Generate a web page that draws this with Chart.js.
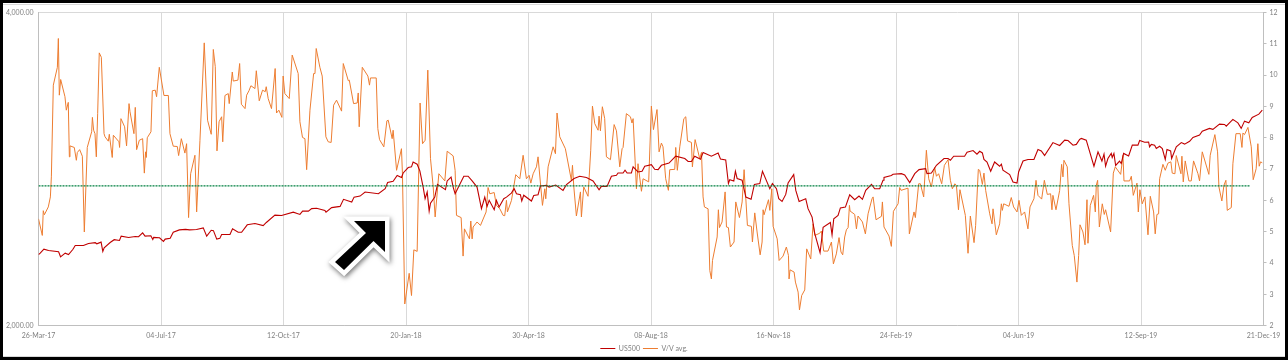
<!DOCTYPE html>
<html><head><meta charset="utf-8">
<script src="https://cdn.jsdelivr.net/npm/chart.js@4"></script>
<style>
html,body{margin:0;padding:0;background:#000;overflow:hidden}
#page{position:absolute;left:3px;top:3px;width:1282px;height:354px;background:#fff;}
#t{position:absolute;left:0;right:0;top:1px;height:1px;background:#d9d9d9}
#b{position:absolute;left:0;right:0;bottom:0;height:1px;background:#d9d9d9}
canvas{position:absolute;left:0;top:0}
</style></head><body>
<div id="page"><div id="t"></div><div id="b"></div></div>
<canvas id="c" width="1288" height="360"></canvas>
<script>
const startDate = Date.UTC(2017, 2, 26);
const tickStepDays = 100;
const lastDay = 1000;
const seriesNames = ["US500", "V/V avg."];
const averageValue = 6.464;
const averageEndDay = 989;

const usDays = [0,1.4,4.4,8.2,16.4,18,21.8,24.5,28,30,36.7,40.8,46.3,47.6,51.1,52.5,53.6,58.5,61.8,66.1,67.5,73.5,79,81.7,85,87,91.7,93.3,94,98.8,102,103.4,107.5,110,115,120,123.3,129,134.5,137.3,141,142.8,145.5,148,149.5,156.3,158.4,163,165.8,170.4,176.7,183.4,186,193,198.4,208,213.4,215.6,220.3,223,227,233.8,234.7,239.3,246.2,249,255.7,257.6,262.5,266.6,277.5,283,285,
289.5,292.8,296.3,297.7,301.8,304.5,305.8,309.1,311.3,314,315.6,317.3,318.9,320,323.5,325.7,332.2,333.6,336.8,338.5,340.1,347.2,350.7,354,358,361.6,364.3,366.2,367.9,372,373.8,376,379.8,382,386,388.3,390.2,393.4,394.5,396.1,402.4,404.3,407.8,409.7,414.6,416.8,422.2,428.2,431,437.2,441.8,447.3,452.7,457.6,459.5,464.1,467.7,471.8,473.1,477.2,478.8,480.5,484,485.4,489.4,492.7,494.9,500.3,503,505.8,508.5,514.7,520.2,
527.6,530.3,533,535.7,540.4,542.5,549.3,554.8,556.7,561,563.2,564.3,567.6,568.9,570.3,574.4,577.4,581.7,584.4,588.8,591,597,599.1,602.4,604.3,607,610,611.9,616.5,618.2,620.9,626.3,628.2,631.5,633.7,638,640.5,646.4,647.8,649.2,652.7,654.6,658.7,662.2,666.3,669.8,672.6,675.3,680,682.6,686.7,689.4,690.2,696.2,697.6,704.4,707.1,711.2,715.3,718.8,724.2,725.3,728.9,733,739.2,742.5,744.4,747.1,756,758,762.9,766.1,
768.3,770.5,771.8,774.3,777.3,780.5,784.6,786,787.3,792.8,795.5,798.8,800.1,803.7,807.7,812.6,815.9,818.6,821.3,828.1,833.6,837.7,840.4,844.5,847.2,849.9,851.3,855.3,861.6,864.9,868.1,869.8,871.1,873,875.7,876.5,877.9,879.3,882.5,883.9,885.8,889.9,892.9,897.5,898.9,903,906.2,907,908.4,911.1,912.5,915.2,917.4,919.8,921.2,924.2,925,928.8,932.9,935.6,939.7,942.4,947.8,950,955.9,958.7,964.1,968.2,969.6,975,979.1,981.8,984.5,988,990.8,996.2,999];
const usValues = [2340,2348,2369,2362,2355,2329,2348,2341,2367,2388,2388,2399,2403,2397,2406,2357,2376,2404,2419,2415,2438,2431,2436,2435,2456,2438,2440,2420,2431,2429,2410,2422,2427,2459,2472,2475,2472,2474,2483,2438,2470,2468,2422,2426,2447,2447,2478,2459,2459,2500,2507,2496,2513,2554,2552,2571,2558,2577,2577,2591,2593,2581,2571,2597,2604,2645,2629,2658,2664,2688,2678,2708,2745,
2753,2788,2776,2804,2838,2842,2873,2859,2817,2718,2649,2688,2577,2623,2658,2734,2702,2755,2779,2718,2678,2784,2784,2755,2718,2591,2658,2604,2639,2585,2639,2600,2649,2658,2682,2708,2678,2672,2635,2669,2635,2668,2672,2724,2728,2718,2730,2698,2733,2770,2784,2776,2755,2702,2722,2722,2784,2790,2804,2804,2821,2804,2804,2842,2810,2815,2846,2856,2827,2825,2852,2866,2910,
2895,2876,2876,2910,2890,2934,2910,2930,2892,2886,2739,2763,2755,2815,2770,2759,2658,2645,2734,2739,2815,2708,2739,2708,2649,2633,2674,2742,2794,2698,2633,2649,2591,2543,2451,2350,2486,2513,2445,2534,2552,2595,2600,2672,2643,2664,2645,2698,2734,2708,2708,2759,2776,2788,2796,2800,2792,2745,2800,2825,2831,2800,2804,2852,2895,2895,2884,2910,2910,2936,2947,2923,
2942,2931,2889,2873,2815,2873,2846,2859,2821,2794,2749,2742,2810,2879,2889,2889,2954,2944,2915,2999,2980,3015,3013,2982,2987,3020,3027,3015,2846,2938,2879,2923,2846,2895,2928,2902,2928,2851,2878,2863,2928,2912,2982,2982,3013,3001,3003,2971,2987,2982,2960,2975,2960,2889,2954,2944,2895,2971,2999,2989,3008,3033,3049,3076,3095,3088,3124,3122,3110,3157,3133,3095,3145,3133,3171,3194,3222];

const vvDays = [0,3.1,3.9,4.8,8,9.7,10.5,12.1,15.4,16.2,17,18.1,21.6,22.7,24.3,25.2,25.7,29.2,30.9,31.7,33.6,35.8,37.4,39.8,43.4,44,45,46.1,47.2,48.3,49.6,51.3,53.5,54.3,57,57.8,60.2,61.1,65.7,66.2,67.3,70.3,71.9,73.9,74.7,77.9,79,80.1,82.3,85,86.4,87.4,88,88.8,91.8,92.9,95.3,96.4,98.6,102.4,106,107.3,110,113.3,114.4,116.6,119.5,120.9,122.5,124.2,127.7,129.1,131.8,135.3,138,141,142.7,144.3,145.7,147.4,149.5,150.4,152.2,154.9,155.7,158.2,159,162.8,164.2,165.6,168.6,169.9,171.8,173.4,176.7,177.8,180.2,182.9,185.1,185.9,187.5,190.2,193.2,194.3,196.2,198.7,199.7,201.1,204.7,207.1,212,213.4,215.5,217.5,218.9,221.6,224.6,225.7,226.7,229.7,231.6,234.6,236.5,238.9,240.9,243.3,247.4,248.8,252.9,253.7,257.2,260.2,261,261.8,264.3,268.9,270.2,271,275.7,277,278.4,281.9,284.4,285.5,288.7,289.5,292.3,
296.3,297.1,299,302.6,304.5,306.4,309.1,311.5,313.5,315.6,317.8,320,322.2,323.8,326.8,331.7,333.6,338.5,340.1,341.2,345,346.6,347.7,351.8,352.9,354,354.8,358,360.8,365.4,367,368.4,372,373.8,376.6,379.3,380.6,382,382.8,386.1,389.6,392.9,395.6,398.3,400.5,401.9,403.8,406.5,407.8,411.4,413.3,414.1,416,420.1,422,423.3,425.5,430.1,435,435.9,437,439.1,442.4,443.2,445.1,448.6,450.8,452.2,454.1,456.8,457.6,458.7,460.3,462.2,463.6,466.9,469.9,471.8,474.5,476.4,477.2,479.9,483.2,484.5,485.4,488.1,489.4,492.2,493.5,498.1,500.3,502,504.9,506.6,508.5,509.8,512,514.2,515.3,519.4,520.2,521.5,
523.5,526.8,528.4,529.8,533,533.8,536,539.8,541.2,542.5,543.6,546.6,548,549.3,550.2,554,555,555.9,558,560.5,561.6,563.2,564.8,567.8,569.2,572.2,574.4,576,578.7,582,582.8,584.7,586.6,589.1,590.7,591.5,592.3,595.9,597,598.6,599.7,603,604.6,607.8,610.5,612.2,612.7,613.5,616.8,617.9,620.1,621.2,623,625.5,627.1,630.4,632.3,633.7,637.7,639.1,641,644.5,647.3,648.9,651.3,653.5,655.1,656.5,658.1,659.5,660.9,662,662.5,666.3,667.7,669,672.6,675,677.2,680.4,681.3,683.7,688.1,688.9,690.2,694.3,696.2,697.9,701.7,703,704.1,709.8,710.9,714.7,715.8,718.5,719.9,722.6,724.8,726.7,728.9,731.6,733,734.8,737.3,739.5,742.5,744.4,746,748,749.3,751,752.2,756.6,758.8,760.7,763.7,765,767.2,
768.3,770.5,771.8,773.2,776.5,778.4,779.2,781.9,784.6,786,786.8,787.9,792.2,794.1,796,798.8,800.4,802.3,805,807.7,809.4,812.6,814.3,815.9,818.9,821.1,823.5,826.2,827.3,828.1,830.6,833.6,835.2,836.3,837.1,839.8,841.2,843.9,845.5,847.7,849.1,850.2,852.6,854.3,855.9,856.7,858.6,861.3,862.7,863.5,864.6,866,868.4,870,871.1,875.2,877.4,879,883.4,885.3,886.1,890.7,892.1,893.7,896.7,897.8,899.1,901,903.2,905.7,907.6,910.3,911.6,913,914.4,915.2,917.9,919.8,922,924.4,925.5,927.7,928.8,932.6,933.4,934.5,936.1,939.1,941,942.9,946.5,947.8,950,955.4,956.5,960.3,962.5,963.6,966,967.7,969.3,970.4,973.7,975,977.5,981,982.4,983.2,984.5,987.3,990,991.6,994,995.4,996.5,997.6,999];
const vvValues = [5.41,4.88,5.67,5.54,5.79,6.11,6.75,9.68,10.25,11.17,9.36,9.86,9.31,8.88,9.13,7.39,7.74,7.69,7.28,7.53,7.62,7.41,4.99,7.69,8.19,8.65,8.24,8.13,7.39,8.77,10.71,10.57,8.13,8.03,7.89,8.11,7.37,8.08,7.87,7.69,8.61,8.35,7.74,9.09,8.83,8.13,8.97,7.62,7.92,7.97,6.87,7.55,7.37,8,8.19,9.5,9.52,9.31,10.25,9.35,9.35,8.13,7.73,7.72,7.43,7.97,7.51,7.81,5.45,6.85,7.44,5.63,7.92,11.03,8.56,8.11,10.82,10.27,7.58,8.51,8.67,7.87,9.35,9.41,9.09,10.1,9.81,9.84,10.37,9.07,8.93,9.36,9.5,9.66,9.57,10.14,9.18,9.52,9.47,9.63,9.25,8.93,10.21,8.79,8.88,8.65,9.97,9.41,9.25,10.64,10.05,8.51,8.01,7.97,6.98,8.88,10.05,10.05,10.85,10.25,9.97,8.03,7.87,7.85,9.04,9.2,8.85,10.37,9.82,9.84,9.09,9.11,9.43,8.35,10.25,9.97,9.68,9.91,9.91,8.29,7.94,7.71,8.54,8.56,7.97,8.24,6.96,
7.65,6.85,2.69,3.67,2.96,4.42,4.37,9.11,7.81,7.92,10.16,7.33,6.43,5.47,6.85,6.62,7.57,7.42,6.96,5.52,5.45,4.22,5.09,4.77,5.34,4.77,5.15,5.31,5.2,5.63,6.41,6.21,6.25,5.84,5.73,5.52,5.51,6,5.63,6,6.82,6.69,7.44,6.69,6.8,6.55,6.85,7.07,7.39,5.84,6.37,6.05,7.07,7.71,7.49,8.79,8.03,7.65,6.64,7.12,6.43,5.5,6.27,5.47,6.43,6.13,7.6,9.01,8.45,8.24,8.69,8.22,8.99,8.61,7.39,7.3,8.42,8.22,7.07,7.65,7.69,8.77,8.67,8.47,8.61,6.37,7.17,6.29,6.69,6.59,9.01,8.26,8.9,7.55,7.83,7.71,6.69,6.32,6.98,6.99,7.69,6.96,
7.71,8.61,8.67,7.9,7.85,7.07,7.94,7.33,7.53,6.11,5.79,5.73,3.76,3.49,4.08,4.83,5.7,5.13,5.31,6.27,5.15,5.13,4.51,4.67,5.95,5.45,5.95,6.98,5.2,5.17,4.67,5.6,4.99,4.26,4.67,5.7,5.54,6.02,5.68,6.37,5.17,4.77,4.08,4.22,4.51,4.24,3.49,3.78,3.71,3.39,3.07,2.5,2.96,3.14,4.45,4.13,5.25,4.88,4.95,5.02,4.38,4.38,4.67,3.97,4.29,4.81,4.35,4.26,4.83,5.06,5.13,5.84,5.66,5.55,5.09,5.5,5.31,4.93,5.57,6.05,6.11,5.38,5.49,5.95,5.15,4.86,4.53,5.65,5.89,6.41,6.32,6.39,4.93,5.63,5.45,6.53,6.53,6.11,7.6,6.69,6.43,7.05,6.77,6.85,6.53,7.12,7.3,6.64,6.37,6.53,6.48,5.7,6.34,5.52,4.31,5.5,4.65,5.2,6.99,
6.96,6.51,6.87,6.32,5.57,5.25,5.73,4.9,5.25,5.89,5.68,5.89,5.81,6.09,5.79,5.63,6,5.52,5.63,5.09,5.79,6.05,6.64,6.16,6.04,6.64,6.19,6.21,5.7,6.16,5.7,6.32,7.15,6.75,7.28,7.07,5.89,4.56,4.24,3.39,4.24,5.22,4.99,4.58,6.02,4.63,5.84,6.16,5.63,6.48,6.64,5.15,5.89,5.55,5.7,4.99,6.87,7.07,6.83,7.44,6.62,6.62,6.77,6.16,6.55,5.63,6.34,5.89,6.11,4.9,6.13,5.63,4.93,5.55,5.57,6.69,7.15,6.96,7.19,7.23,6.87,6.85,7.43,6.85,7.41,6.59,7.26,6.62,6.62,7.26,6.85,6.62,7.55,6.83,7.44,8.1,7.55,6.43,5.98,6.48,6.64,5.68,5.77,7.17,8.13,8.13,7.69,8.15,8.1,8.33,7.71,6.66,7.01,7.81,7.09,7.23,7.2];

const toPoints = (days, values) => days.map((d, i) => ({x: d, y: values[i]}));
const mon = ["Jan","Feb","Mar","Apr","May","Jun","Jul","Aug","Sep","Oct","Nov","Dec"];
function fmtDay(n){
  const t = new Date(startDate + n * 86400000);
  return String(t.getUTCDate()).padStart(2,"0") + "-" + mon[t.getUTCMonth()] + "-" + String(t.getUTCFullYear()).slice(2);
}
const font = {family:"Lato,'Liberation Sans',sans-serif", size:7};
const arrowPlugin = {
  id:"arrow",
  afterDraw(chart){
    const g = chart.ctx;
    const p = [[385,221],[354,221],[366,233],[335,262],[344,270],[373.5,241],[385,252]];
    g.save();
    g.beginPath();
    p.forEach((q,i)=> i ? g.lineTo(q[0],q[1]) : g.moveTo(q[0],q[1]));
    g.closePath();
    g.lineJoin = "miter";
    g.shadowColor = "rgba(0,0,0,0.55)";
    g.shadowBlur = 5;
    g.shadowOffsetX = 1;
    g.shadowOffsetY = 2;
    g.strokeStyle = "#fff";
    g.lineWidth = 9;
    g.stroke();
    g.shadowColor = "transparent";
    g.fillStyle = "#000";
    g.fill();
    g.restore();
  }
};
new Chart(document.getElementById("c"), {
  type:"line",
  data:{datasets:[
    {label:seriesNames[0], data:toPoints(usDays,usValues), yAxisID:"y", borderColor:"#c00000", backgroundColor:"#c00000", borderWidth:1.1, pointRadius:0, tension:0, order:1},
    {label:seriesNames[1], data:toPoints(vvDays,vvValues), yAxisID:"y2", borderColor:"#ed7d31", backgroundColor:"#ed7d31", borderWidth:1, pointRadius:0, tension:0, order:2},
    {label:"Average", data:toPoints([0,averageEndDay],[averageValue,averageValue]), yAxisID:"y2", borderColor:"#008040", borderWidth:1.2, borderDash:[2,1], pointRadius:0, tension:0, order:0}
  ]},
  options:{
    responsive:false, animation:false, events:[],
    layout:{padding:{left:0,right:0,top:12.5,bottom:-2}},
    plugins:{
      tooltip:{enabled:false},
      legend:{position:"bottom", labels:{font:font, color:"#7f7f7f", boxWidth:15, boxHeight:0, padding:3,
        filter:i=>i.datasetIndex<2,
        generateLabels(chart){
          return chart.data.datasets.map((d,i)=>({text:d.label,fillStyle:d.borderColor,strokeStyle:d.borderColor,lineWidth:1.2,datasetIndex:i,fontColor:"#7f7f7f"}));
        }}}
    },
    scales:{
      x:{type:"linear",min:0,max:lastDay,
        afterBuildTicks(s){const t=[];for(let v=0;v<=lastDay;v+=tickStepDays)t.push({value:v});s.ticks=t;},
        afterFit(s){s.height-=4;},
        ticks:{font:font,color:"#7f7f7f",padding:6,maxRotation:0,autoSkip:false,callback:v=>fmtDay(v)},
        grid:{color:"#d9d9d9",lineWidth:1,tickLength:0},
        border:{color:"#bfbfbf"}},
      y:{type:"logarithmic",position:"left",min:2000,max:4000,
        afterBuildTicks(s){s.ticks=[{value:2000},{value:4000}];},
        afterFit(s){s.width=38.5;},
        ticks:{font:font,color:"#7f7f7f",padding:5,autoSkip:false,callback:v=>v.toLocaleString("en-US",{minimumFractionDigits:2,maximumFractionDigits:2})},
        grid:{color:"#d9d9d9",tickLength:0},
        border:{color:"#bfbfbf"}},
      y2:{type:"linear",position:"right",min:2,max:12,
        afterFit(s){s.width=24.5;},
        ticks:{stepSize:1,font:font,color:"#7f7f7f",padding:3},
        grid:{drawOnChartArea:false,color:"#bfbfbf",tickLength:3},
        border:{color:"#bfbfbf"}}
    }
  },
  plugins:[arrowPlugin]
});
</script>
</body></html>
